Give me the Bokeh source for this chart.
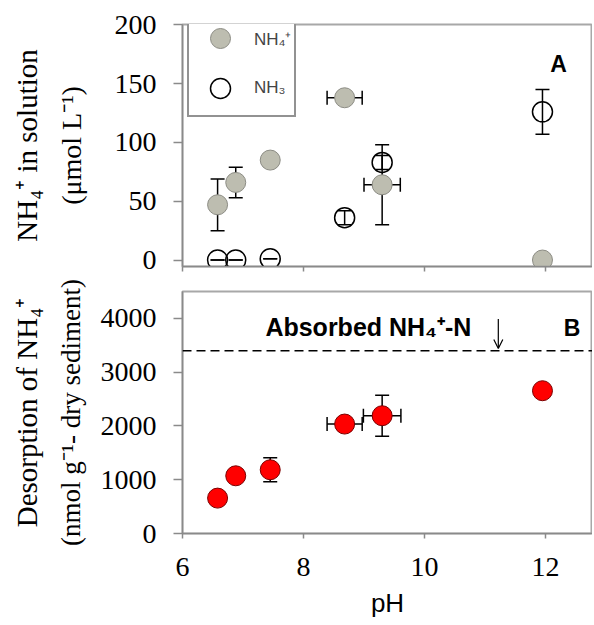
from bokeh.plotting import figure
from bokeh.layouts import column
from bokeh.models import (ColumnDataSource, Whisker, TeeHead, Span, Label, Arrow,
                          OpenHead, Legend, LegendItem, LinearAxis, FixedTicker, Range1d)
from bokeh.embed import file_html
from bokeh.resources import INLINE

# ---------------- data ----------------
ph = [6.58, 6.88, 7.45, 8.68, 9.30, 11.95]
ph_err_a = [0.0, 0.0, 0.0, 0.29, 0.30, 0.0]
nh4 = [47, 66, 85, 138, 64, 0]
nh4_err = [22, 13, 0, 0, 34, 0]
nh3 = [0, 0, 1, 36, 83, 126]
nh3_err = [0, 0, 0, 6, 6, 19]

desorb = [658, 1073, 1185, 2035, 2190, 2655]
desorb_err = [0, 0, 225, 0, 380, 0]
ph_err_b = [0.0, 0.0, 0.0, 0.29, 0.31, 0.0]
absorbed_total = 3400

x_ticks = [6, 8, 10, 12]
ya_ticks = [0, 50, 100, 150, 200]
yb_ticks = [0, 1000, 2000, 3000, 4000]

# ---------------- styles ----------------
SERIF = "Liberation Serif"
SANS = "Liberation Sans"
AX_COL = "#8a8a8a"
OUTLINE = "#a8a8a8"
GRAY_FILL = "#bdbdb0"
GRAY_LINE = "#8c8c84"

def lo(v, e):
    return [a - b for a, b in zip(v, e)]

def hi(v, e):
    return [a + b for a, b in zip(v, e)]

src_a = ColumnDataSource(dict(
    ph=ph, nh4=nh4, nh3=nh3,
    nh4_lo=lo(nh4, nh4_err), nh4_hi=hi(nh4, nh4_err),
    nh3_lo=lo(nh3, nh3_err), nh3_hi=hi(nh3, nh3_err),
    ph_lo=lo(ph, ph_err_a), ph_hi=hi(ph, ph_err_a),
))
src_b = ColumnDataSource(dict(
    ph=ph, d=desorb,
    d_lo=lo(desorb, desorb_err), d_hi=hi(desorb, desorb_err),
    ph_lo=lo(ph, ph_err_b), ph_hi=hi(ph, ph_err_b),
))

W = 592
LEFT = 182
X_RANGE = (6, 6 + (W - LEFT) / 60.5)

def style(p, yticks):
    p.grid.visible = False
    p.outline_line_color = OUTLINE
    p.outline_line_width = 2
    p.xaxis.ticker = FixedTicker(ticks=x_ticks)
    p.yaxis.ticker = FixedTicker(ticks=yticks)
    for ax in (p.xaxis[0], p.yaxis[0]):
        ax.axis_line_color = AX_COL
        ax.axis_line_width = 1.5
        ax.major_tick_line_color = AX_COL
        ax.major_tick_line_width = 1.5
        ax.major_tick_in = 0
        ax.minor_tick_line_color = None
        ax.major_label_text_font = SERIF
        ax.major_label_text_font_size = "28px"
        ax.major_label_text_color = "black"
        ax.axis_label_text_font_style = "normal"
        ax.axis_label_text_color = "black"
    p.yaxis.major_tick_out = 9
    p.yaxis.major_label_standoff = 17
    p.xaxis.major_tick_out = 5


def add_titles(p, line1, line2, std2, std1, size2):
    ya = p.yaxis[0]
    ya.axis_label = line2
    ya.axis_label_text_font = SERIF
    ya.axis_label_text_font_size = size2
    ya.axis_label_standoff = std2
    extra = LinearAxis(ticker=FixedTicker(ticks=[]), axis_line_color=None,
                       major_tick_out=0, major_tick_in=0, minor_tick_out=0,
                       minor_tick_in=0, major_label_text_font_size="0px",
                       major_label_standoff=0, axis_label=line1,
                       axis_label_text_font=SERIF, axis_label_text_font_size="29px",
                       axis_label_text_font_style="normal",
                       axis_label_text_color="black", axis_label_standoff=std1)
    p.add_layout(extra, "left")


def whiskers(p, source, base, lower, upper, dim):
    w = Whisker(source=source, base=base, lower=lower, upper=upper, dimension=dim,
                line_color="black", line_width=1.5,
                upper_head=TeeHead(size=14, line_width=1.5, line_color="black"),
                lower_head=TeeHead(size=14, line_width=1.5, line_color="black"),
                level="underlay")
    p.add_layout(w)

# ---------------- panel A ----------------
pa = figure(width=W, height=276, output_backend="svg", toolbar_location=None,
            x_range=Range1d(*X_RANGE), y_range=Range1d(-5.5, 200.3),
            min_border_left=LEFT, min_border_right=0, min_border_top=24,
            min_border_bottom=10, background_fill_color="white",
            border_fill_color="white")
style(pa, ya_ticks)
pa.xaxis.major_label_text_font_size = "0px"
pa.xaxis.major_label_standoff = 0
add_titles(pa, "NH\u2084\u207a in solution", "(\u03bcmol L\u207b\u00b9)", 25, 10, "28px")

whiskers(pa, src_a, "ph", "nh4_lo", "nh4_hi", "height")
whiskers(pa, src_a, "nh4", "ph_lo", "ph_hi", "width")
whiskers(pa, src_a, "ph", "nh3_lo", "nh3_hi", "height")

r_nh4 = pa.scatter("ph", "nh4", source=src_a, size=20, fill_color=GRAY_FILL,
                   line_color=GRAY_LINE, line_width=1)
r_nh3 = pa.scatter("ph", "nh3", source=src_a, size=20, fill_color=None,
                   line_color="black", line_width=1.5)

leg = Legend(items=[LegendItem(label="NH\u2084\u207a", renderers=[r_nh4]),
                    LegendItem(label="NH\u2083", renderers=[r_nh3])],
             location=(5, 149), orientation="vertical",
             border_line_color="#262626", border_line_width=2,
             background_fill_color="white", background_fill_alpha=1,
             label_text_font=SANS, label_text_font_size="17px",
             glyph_width=58, glyph_height=50, label_height=20, spacing=-15,
             padding=2, margin=0, label_standoff=5)
pa.add_layout(leg, "center")

pa.add_layout(Label(x=12.08, y=167, text="A", text_font=SANS, text_font_style="bold",
                    text_font_size="23px", text_color="black",
                    text_baseline="alphabetic"))

# ---------------- panel B ----------------
pb = figure(width=W, height=347, output_backend="svg", toolbar_location=None,
            x_range=Range1d(*X_RANGE), y_range=Range1d(0, 4500),
            min_border_left=LEFT, min_border_right=0, min_border_top=15,
            min_border_bottom=90, background_fill_color="white",
            border_fill_color="white")
style(pb, yb_ticks)
pb.xaxis.major_label_standoff = 19
pb.xaxis.axis_label = "pH"
pb.xaxis.axis_label_text_font = SANS
pb.xaxis.axis_label_text_font_size = "26px"
pb.xaxis.axis_label_standoff = 9
add_titles(pb, "Desorption of NH\u2084\u207a",
           "(nmol g\u207b\u00b9- dry sediment)", 12, 10, "27px")

pb.add_layout(Span(location=absorbed_total, dimension="width", line_color="black",
                   line_width=1.5, line_dash="9 5"))
pb.add_layout(Label(x=7.37, y=3840, text="Absorbed NH\u2084\u207a-N", text_font=SANS,
                    text_font_style="bold", text_font_size="25px",
                    text_color="black", text_baseline="alphabetic"))
pb.add_layout(Arrow(x_start=11.22, y_start=3990, x_end=11.22, y_end=absorbed_total + 40,
                    line_color="black", line_width=1.2,
                    end=OpenHead(size=9, line_width=1.2, line_color="black")))
pb.add_layout(Label(x=12.30, y=3822, text="B", text_font=SANS, text_font_style="bold",
                    text_font_size="23px", text_color="black",
                    text_baseline="alphabetic"))

whiskers(pb, src_b, "ph", "d_lo", "d_hi", "height")
whiskers(pb, src_b, "d", "ph_lo", "ph_hi", "width")
pb.scatter("ph", "d", source=src_b, size=20, fill_color="#ff0000",
           line_color="#7a0000", line_width=1)

layout = column(pa, pb, spacing=0)
open("out.html", "w").write(file_html(layout, INLINE))
